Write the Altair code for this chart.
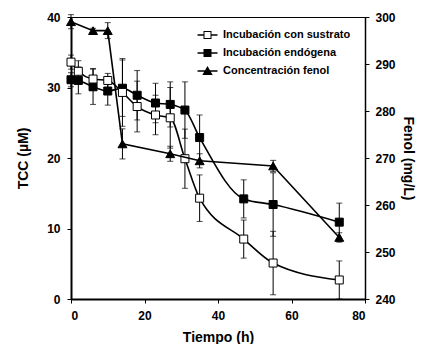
import altair as alt
import pandas as pd

# ---- data ----
series_names = ["Incubación con sustrato", "Incubación endógena", "Concentración fenol"]

t_sus = [0, 2, 6, 10, 14, 18, 23, 27, 31, 35, 47, 55, 73]
v_sus = [33.6, 32.3, 31.2, 31.0, 29.3, 27.3, 26.1, 25.7, 19.9, 14.3, 8.5, 5.1, 2.7]
e_sus = [1.0, 1.5, 1.5, 1.0, 4.8, 3.6, 2.8, 4.3, 4.2, 3.3, 2.7, 4.5, 2.7]

t_end = [0, 2, 6, 10, 14, 18, 23, 27, 31, 35, 47, 55, 73]
v_end = [31.1, 31.0, 30.1, 29.5, 29.9, 28.9, 27.8, 27.6, 26.8, 22.9, 14.2, 13.4, 10.9]
e_end = [1.0, 1.9, 2.5, 2.0, 4.0, 3.5, 2.8, 3.2, 4.0, 3.2, 2.7, 4.5, 2.7]

t_fen = [0, 6, 10, 14, 27, 35, 55, 73]
v_fen = [299.0, 297.1, 297.1, 273.0, 270.9, 269.4, 268.3, 253.1]
e_fen = [1.5, 0.5, 1.7, 3.2, 1.6, 1.5, 1.2, 1.0]

x_ticks = [0, 20, 40, 60, 80]
y_ticks = [0, 10, 20, 30, 40]
y2_ticks = [240, 250, 260, 270, 280, 290, 300]

# legend symbols drawn as filled shapes: line through marker (unit-square SVG paths)
legend_paths = [
    "M-2.5,-0.19H-1V0.19H-2.5Z M1,-0.19H2.5V0.19H1Z "
    "M-1,-1H1V1H-1Z M-0.75,-0.75V0.75H0.75V-0.75Z",
    "M-2.5,-0.19H2.5V0.19H-2.5Z M-1,-1H1V1H-1Z",
    "M-2.5,-0.19H2.5V0.19H-2.5Z M0,-1.25L1.3,1L-1.3,1Z",
]


def frame(i, t, v, e):
    return pd.DataFrame({
        "serie": series_names[i], "t": t, "v": v,
        "lo": [a - b for a, b in zip(v, e)],
        "hi": [a + b for a, b in zip(v, e)],
    })


df_sus = frame(0, t_sus, v_sus, e_sus)
df_end = frame(1, t_end, v_end, e_end)
df_fen = frame(2, t_fen, v_fen, e_fen)
df_leg = pd.DataFrame({"serie": series_names})

FONT = "Liberation Sans"

x_enc = alt.X("t:Q", scale=alt.Scale(domain=[0, 80], nice=False),
              axis=alt.Axis(values=x_ticks, title="Tiempo (h)", domainWidth=2,
                            tickSize=4, labelPadding=7, titlePadding=9))


def y_tcc(field):
    return alt.Y(field, scale=alt.Scale(domain=[0, 40], nice=False),
                 axis=alt.Axis(values=y_ticks, title="TCC (µM)", orient="left",
                               domainWidth=2, tickSize=4, labelPadding=7, titlePadding=16))


def y_fen(field):
    return alt.Y(field, scale=alt.Scale(domain=[240, 300], nice=False),
                 axis=alt.Axis(values=y2_ticks, title="Fenol (mg/L)", orient="right",
                               domainWidth=1.5, tickSize=4, labelPadding=6, titlePadding=5))


def series_layers(df, yf, interp, shape, size, fill):
    base = alt.Chart(df)
    bars = base.mark_rule(color="black", strokeWidth=1).encode(
        x=x_enc, y=yf("lo:Q"), y2="hi:Q")
    cap_lo = base.mark_tick(color="black", orient="horizontal", size=6, thickness=1).encode(
        x=x_enc, y=yf("lo:Q"))
    cap_hi = base.mark_tick(color="black", orient="horizontal", size=6, thickness=1).encode(
        x=x_enc, y=yf("hi:Q"))
    line = base.mark_line(strokeWidth=1.6, interpolate=interp, color="black").encode(
        x=x_enc, y=yf("v:Q"))
    pts = base.mark_point(filled=True, fill=fill, stroke="black", strokeWidth=1,
                          size=size, opacity=1, shape=shape).encode(
        x=x_enc, y=yf("v:Q"))
    return [bars, cap_lo, cap_hi, line, pts]


sus_layers = series_layers(df_sus, y_tcc, "monotone", "square", 64, "white")
end_layers = series_layers(df_end, y_tcc, "monotone", "square", 64, "black")
# draw order: error bars, then lines, then markers
g_tcc = alt.layer(*(end_layers[:3] + sus_layers[:3] + [end_layers[3], sus_layers[3],
                                                      end_layers[4], sus_layers[4]]))
g_fen = alt.layer(*series_layers(df_fen, y_fen, "linear", "triangle-up", 80, "black"))

# legend layer: invisible marks, visible legend symbols (line through marker)
legend_layer = alt.Chart(df_leg).mark_point(
    filled=True, color="black", opacity=0).encode(
    shape=alt.Shape("serie:N", scale=alt.Scale(domain=series_names, range=legend_paths),
                    legend=alt.Legend(title=None, orient="none", legendX=131,
                                      legendY=12.5, symbolSize=64, rowPadding=6,
                                      labelOffset=10, padding=0, labelFontSize=11,
                                      symbolOpacity=1, symbolFillColor="black",
                                      symbolStrokeWidth=0)),
)

chart = alt.layer(g_tcc, g_fen, legend_layer).resolve_scale(y="independent").properties(
    width=294, height=282,
    autosize=alt.AutoSizeParams(type="none"),
    padding={"left": 63, "top": 9, "right": 53, "bottom": 45},
).configure_view(stroke="black", strokeWidth=1).configure_axis(
    labelFont=FONT, labelFontWeight="bold", labelFontSize=12, labelColor="black",
    titleFont=FONT, titleFontWeight="bold", titleFontSize=14, titleColor="black",
    domainColor="black", tickColor="black", grid=False,
).configure_legend(labelFont=FONT, labelFontWeight="bold", labelColor="black")

chart.save("out.html", embed_options={"renderer": "svg", "actions": False})
